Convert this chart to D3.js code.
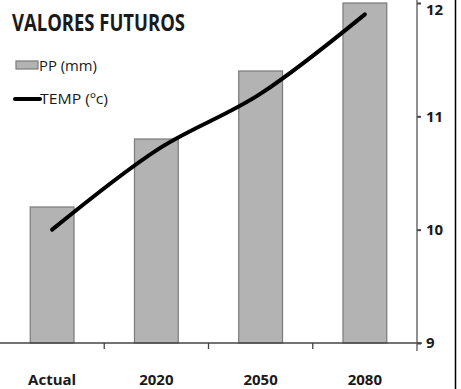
<!DOCTYPE html>
<html>
<head>
<meta charset="utf-8">
<script src="https://cdn.jsdelivr.net/npm/d3@7/dist/d3.min.js"></script>
<style>
  html, body { margin: 0; padding: 0; background: #fff; }
  svg { display: block; }
  text { font-family: "Liberation Sans Narrow", "Open Sans", "DejaVu Sans Condensed", sans-serif; fill: #1a1a1a; }
  .bold { font-weight: bold; }
  .plain { font-weight: normal; }
</style>
</head>
<body>
<svg id="chart" width="461" height="389"></svg>
<script>
// Future values: precipitation bars and temperature line on a shared right axis
const categories = ["Actual", "2020", "2050", "2080"];
const ppValues = [10.2, 10.8, 11.4, 12.0];
const tempValues = [10.0, 10.7, 11.2, 11.9];
const yTicks = [9, 10, 11, 12];
const titleText = "VALORES FUTUROS";
const legendLabels = ["PP (mm)", "TEMP (ºc)"];

const W = 461, H = 389;
const plot = { left: 0, right: 417, top: 3, bottom: 343 };

const svg = d3.select("#chart");

const x = d3.scaleBand()
  .domain(categories)
  .range([plot.left, plot.right])
  .paddingInner(0.58)
  .paddingOuter(0.29);

const y = d3.scaleLinear()
  .domain([9, 12])
  .range([plot.bottom, plot.top]);

// Bars
svg.append("g").selectAll("rect")
  .data(categories)
  .join("rect")
  .attr("x", (d) => x(d))
  .attr("width", x.bandwidth())
  .attr("y", (d, i) => y(ppValues[i]))
  .attr("height", (d, i) => y(9) - y(ppValues[i]))
  .attr("fill", "#b3b3b3")
  .attr("stroke", "#7a7a7a")
  .attr("stroke-width", 1.2);

// Bottom axis (category ticks between groups)
const xAxis = svg.append("g").attr("transform", `translate(0,${plot.bottom})`);
xAxis.append("line")
  .attr("x1", plot.left).attr("x2", plot.right + 5)
  .attr("stroke", "#444").attr("stroke-width", 1.3);
const step = x.step();
xAxis.selectAll(".sep")
  .data(categories.slice(1))
  .join("line")
  .attr("x1", (d) => x(d) - step * x.paddingInner() / 2)
  .attr("x2", (d) => x(d) - step * x.paddingInner() / 2)
  .attr("y1", 0).attr("y2", 6)
  .attr("stroke", "#444").attr("stroke-width", 1.3);
xAxis.selectAll("text")
  .data(categories)
  .join("text")
  .attr("class", "bold")
  .attr("x", (d) => x(d) + x.bandwidth() / 2)
  .attr("y", 42)
  .attr("text-anchor", "middle")
  .attr("font-size", 15)
  .text((d) => d);

// Right axis
const yAxis = d3.axisRight(y)
  .tickValues(yTicks)
  .tickSize(4)
  .tickPadding(5)
  .tickFormat(d3.format("d"));
const yg = svg.append("g")
  .attr("transform", `translate(${plot.right},0)`)
  .call(yAxis);
yg.select(".domain").remove();
yg.append("line")
  .attr("y1", 0).attr("y2", plot.bottom + 8)
  .attr("stroke", "#555").attr("stroke-width", 1.3);
yg.selectAll(".tick line").attr("stroke", "#444").attr("stroke-width", 2);
yg.selectAll(".tick text")
  .attr("class", "bold")
  .attr("font-size", 15)
  .attr("font-family", null)
  .attr("fill", "#1a1a1a")
  // keep the top label inside the frame
  .attr("dy", (d) => d === 12 ? "0.75em" : "0.32em");

// Temperature line
const line = d3.line()
  .x((d, i) => x(categories[i]) + x.bandwidth() / 2)
  .y((d) => y(d))
  .curve(d3.curveCardinal.tension(0));
svg.append("path")
  .datum(tempValues)
  .attr("d", line)
  .attr("fill", "none")
  .attr("stroke", "#000")
  .attr("stroke-width", 4)
  .attr("stroke-linecap", "round");

// Title
svg.append("text")
  .attr("class", "bold")
  .attr("x", 12).attr("y", 31)
  .attr("font-size", 23)
  .attr("textLength", 173)
  .attr("lengthAdjust", "spacingAndGlyphs")
  .text(titleText);

// Legend
const lg = svg.append("g");
lg.append("rect")
  .attr("x", 16).attr("y", 61).attr("width", 22).attr("height", 8)
  .attr("fill", "#b3b3b3").attr("stroke", "#7a7a7a").attr("stroke-width", 1.2);
lg.append("text")
  .attr("class", "plain")
  .attr("x", 39).attr("y", 71)
  .attr("font-size", 15)
  .attr("textLength", 58)
  .attr("lengthAdjust", "spacingAndGlyphs")
  .text(legendLabels[0]);
lg.append("line")
  .attr("x1", 15).attr("x2", 40).attr("y1", 99).attr("y2", 99)
  .attr("stroke", "#000").attr("stroke-width", 4).attr("stroke-linecap", "round");
lg.append("text")
  .attr("class", "plain")
  .attr("x", 40).attr("y", 104)
  .attr("font-size", 15)
  .attr("textLength", 68)
  .attr("lengthAdjust", "spacingAndGlyphs")
  .text(legendLabels[1]);

// Frame edge on the right
svg.append("line")
  .attr("x1", 455.5).attr("x2", 455.5).attr("y1", 0).attr("y2", H)
  .attr("stroke", "#000").attr("stroke-width", 1.5);
</script>
</body>
</html>
